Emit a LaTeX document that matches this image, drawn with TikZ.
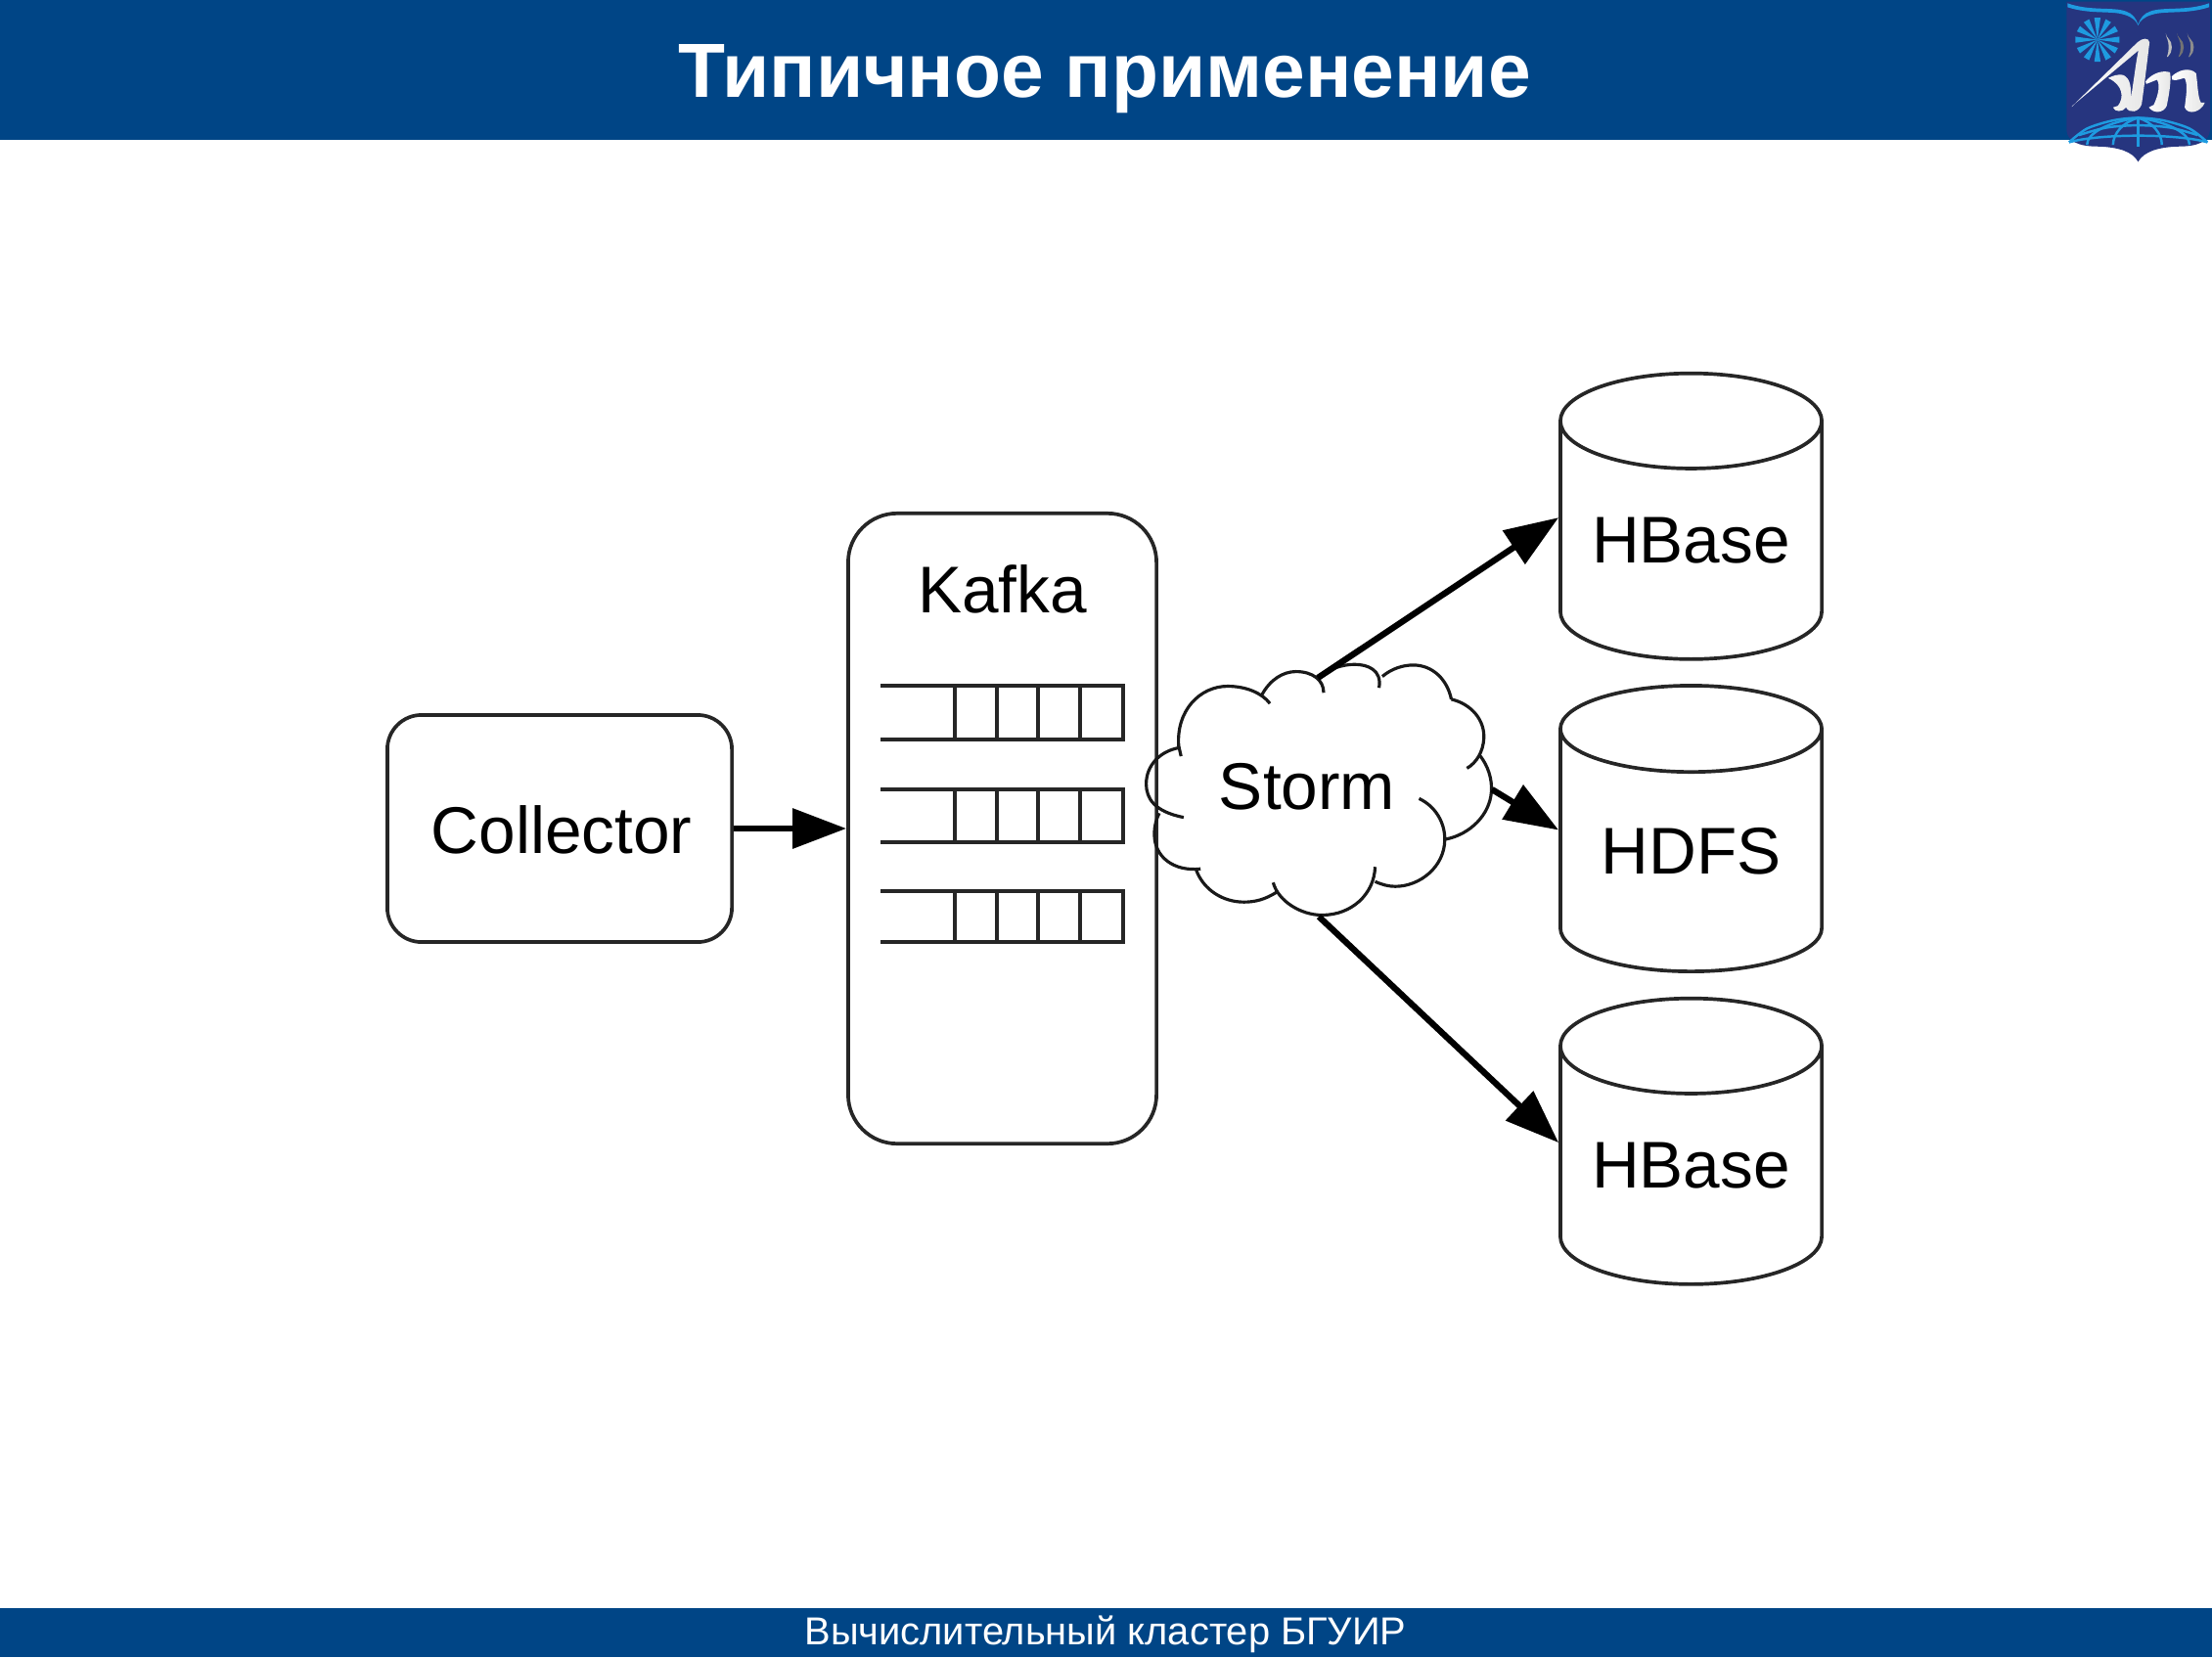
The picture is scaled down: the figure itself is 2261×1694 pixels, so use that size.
\documentclass[tikz,border=0pt]{standalone}
\usepackage{fontspec}
\setmainfont{Liberation Sans}
\usepackage{xcolor}
\usetikzlibrary{shapes.geometric}
\usetikzlibrary{arrows.meta}
\definecolor{barblue}{HTML}{004586}
\definecolor{logoblue}{HTML}{26357F}
\definecolor{logocyan}{HTML}{1E9BE0}
\tikzset{
  chartline/.style={line width=1.05pt, black!85},
  chartlabel/.style={anchor=base, font=\fontsize{19.2}{23}\selectfont, inner sep=0pt},
  roundbox/.style={chartline, draw, rectangle},
  dbase/.style={chartline, draw, cylinder, shape border rotate=90, aspect=.48, minimum width=2.67cm, minimum height=2.92cm, inner sep=0pt, text=black, font=\fontsize{19.2}{23}\selectfont},
  flow/.style={line width=1.8pt, -{Triangle[length=.55cm,width=.4cm]}},
  logoline/.style={logocyan, line width=.7pt},
  logosilver/.style={left color=white, middle color=black!35, right color=black!10}
}
\begin{document}
\begin{tikzpicture}[x=.01cm, y=-.01cm]
 \useasboundingbox (0,0) rectangle (2261,1694);
 \fill[barblue] (0,0) rectangle (2261,143);
 \fill[barblue] (0,1644) rectangle (2261,1694);
 \node[anchor=base, white, inner sep=0pt, font=\bfseries\fontsize{22.33}{26}\selectfont] (titleText) at (1129,100) {Типичное применение};
 \node[anchor=base, white, inner sep=0pt, font=\fontsize{11.33}{13}\selectfont] (footerText) at (1130,1681) {Вычислительный кластер БГУИР};

 \node[roundbox, rounded corners=.35cm, minimum width=3.52cm, minimum height=2.32cm] (collector) at (572,847) {};
 \node[chartlabel] (collectorText) at (574,872) {Collector};
 \node[roundbox, rounded corners=.5cm, minimum width=3.15cm, minimum height=6.44cm] (kafka) at (1024.5,847) {};
 \node[chartlabel] (kafkaText) at (1024.5,626) {Kafka};
 \foreach \yt/\yb in {701/756, 807/861, 911/963} {
   \draw[chartline] (900,\yt) -- (1148,\yt) -- (1148,\yb) -- (900,\yb);
   \foreach \xq in {976,1019,1061,1104}
     \draw[chartline] (\xq,\yt) -- (\xq,\yb);
 }

 \node[dbase] (hbaseA) at (1728.5,553) {HBase};
 \node[dbase] (hdfs) at (1728.5,870) {HDFS};
 \node[dbase] (hbaseB) at (1728.5,1192) {HBase};

 \node[chartlabel] (storm) at (1336,827) {Storm};
 \coordinate (stormA) at (1347,693);
 \coordinate (stormB) at (1525,807);
 \coordinate (stormC) at (1348,937);

 \begin{scope}[shift={(1130,620)}, x=.00333cm, y=-.00333cm, line width=.9pt, black!90]
  \draw (232,460) -- (226,434) .. controls (165,445) and (125,490) .. (125,545) .. controls (125,590) and (150,630) .. (240,648);
  \draw (225,432) .. controls (215,320) and (290,245) .. (375,245) .. controls (430,245) and (480,265) .. (505,298);
  \draw (480,272) .. controls (505,225) and (545,200) .. (585,200) .. controls (635,200) and (670,225) .. (670,265);
  \draw (655,215) .. controls (690,190) and (730,178) .. (765,178) .. controls (805,178) and (850,195) .. (840,250);
  \draw (850,215) .. controls (880,190) and (915,180) .. (945,180) .. controls (1005,180) and (1050,225) .. (1062,285);
  \draw (1062,285) .. controls (1125,300) and (1165,350) .. (1162,405) .. controls (1160,445) and (1140,480) .. (1110,497);
  \draw (1150,458) .. controls (1175,490) and (1188,530) .. (1185,570) .. controls (1180,640) and (1120,700) .. (1045,715);
  \draw (963,590) .. controls (1015,615) and (1042,665) .. (1042,715) .. controls (1042,800) and (965,860) .. (890,860) .. controls (870,860) and (850,855) .. (828,845);
  \draw (828,800) .. controls (825,885) and (755,948) .. (665,948) .. controls (600,948) and (530,905) .. (515,848);
  \draw (525,878) .. controls (490,900) and (460,908) .. (425,908) .. controls (360,908) and (300,870) .. (278,808);
  \draw (292,806) .. controls (210,815) and (150,770) .. (150,700) .. controls (150,675) and (155,655) .. (165,635);
 \end{scope}

 \draw[flow] (collector.east) -- (kafka.west);
 \draw[flow] (stormA) -- (hbaseA.170.6);
 \draw[flow] (stormB) -- (hdfs.171);
 \draw[flow] (stormC) -- (hbaseB.170.2);

 \begin{scope}[shift={(2050,0)}, x=.00333cm, y=-.00333cm]
  \fill[logoblue] (187,5) -- (628,5) -- (628,400) .. controls (625,435) and (590,450) .. (530,450) .. controls (470,452) and (425,465) .. (407,497) .. controls (390,465) and (345,452) .. (285,450) .. controls (225,450) and (190,435) .. (187,400) -- cycle;
  \fill[logocyan] (190,10) .. controls (260,35) and (330,20) .. (370,35) .. controls (390,42) and (400,55) .. (407,75) .. controls (414,55) and (424,42) .. (444,35) .. controls (484,20) and (555,35) .. (625,10) -- (625,22) .. controls (555,45) and (490,32) .. (450,45) .. controls (425,52) and (412,65) .. (407,78) .. controls (402,65) and (389,52) .. (364,45) .. controls (325,32) and (260,45) .. (190,22) -- cycle;
  \foreach \a in {0,30,...,330}
    \fill[logocyan, shift={(282,122)}] (0,0) -- (\a-8:68) -- (\a+8:68) -- cycle;
  \draw[logoline] plot[smooth] coordinates {(195,437) (250,395) (330,370) (407,362) (485,370) (565,395) (620,437)};
  \draw[logoline] plot[smooth] coordinates {(225,415) (310,392) (407,385) (505,392) (590,415)};
  \draw[logoline] (195,437) .. controls (290,410) and (525,410) .. (620,437);
  \foreach \xg in {250,330,480,565}
    \draw[logoline] (407,362) .. controls ({407+(\xg-407)*.6},375) and (\xg,410) .. (\xg,445);
  \draw[logoline] (407,362) -- (407,450);
  \shade[logosilver] (203,328) -- (405,130) .. controls (420,116) and (440,115) .. (442,130) .. controls (435,190) and (425,270) .. (418,320) .. controls (410,345) and (380,350) .. (370,330) .. controls (360,345) and (335,345) .. (330,330) -- (345,325) .. controls (365,300) and (360,260) .. (315,240) .. controls (330,232) and (345,228) .. (360,230) .. controls (385,240) and (385,270) .. (385,300) .. controls (395,240) and (400,190) .. (408,155) -- (205,325) -- cycle;
  \shade[logosilver] (430,250) .. controls (450,225) and (480,215) .. (505,222) .. controls (510,250) and (500,300) .. (495,325) .. controls (485,348) and (455,350) .. (440,330) -- (455,322) .. controls (470,290) and (475,260) .. (465,245) -- (432,258) -- cycle;
  \shade[logosilver] (510,235) .. controls (530,215) and (565,205) .. (585,225) .. controls (590,255) and (590,300) .. (600,315) -- (612,315) .. controls (600,345) and (560,355) .. (550,330) .. controls (555,290) and (560,260) .. (550,240) .. controls (540,240) and (525,250) .. (512,245) -- cycle;
  \foreach \xs/\w/\g in {492/16/25, 527/18/55, 558/18/45}
    \fill[black!\g, rounded corners=1pt] (\xs,112) .. controls (\xs+\w+6,130) and (\xs+\w+6,160) .. (\xs,180) .. controls (\xs+\w-6,160) and (\xs+\w-6,130) .. (\xs,112) -- cycle;
 \end{scope}
\end{tikzpicture}
\end{document}
